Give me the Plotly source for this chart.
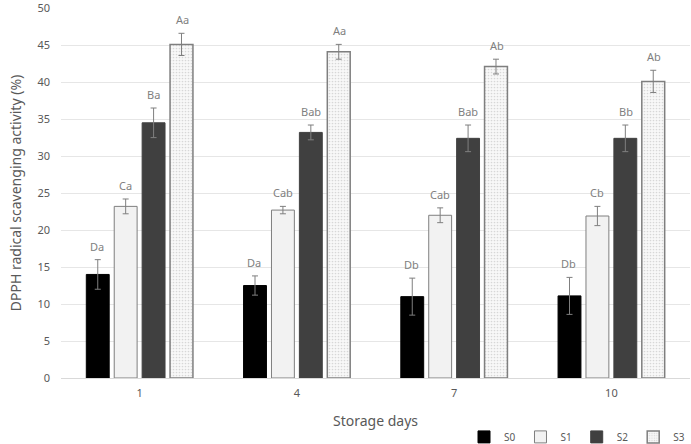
import plotly.graph_objects as go

days = ["1", "4", "7", "10"]
series = ["S0", "S1", "S2", "S3"]
values = {
    "S0": [14.0, 12.5, 11.0, 11.1],
    "S1": [23.2, 22.7, 22.0, 21.9],
    "S2": [34.5, 33.2, 32.4, 32.4],
    "S3": [45.1, 44.1, 42.1, 40.1],
}
errors = {
    "S0": [2.0, 1.3, 2.5, 2.5],
    "S1": [1.0, 0.5, 1.0, 1.3],
    "S2": [2.0, 1.0, 1.8, 1.8],
    "S3": [1.5, 1.0, 1.0, 1.5],
}
letters = {
    "S0": ["Da", "Da", "Db", "Db"],
    "S1": ["Ca", "Cab", "Cab", "Cb"],
    "S2": ["Ba", "Bab", "Bab", "Bb"],
    "S3": ["Aa", "Aa", "Ab", "Ab"],
}
x_title = "Storage days"
y_title = "DPPH radical scavenging activity (%)"

styles = {
    "S0": dict(color="#000000", line=dict(color="#000000", width=1)),
    "S1": dict(color="#f2f2f2", line=dict(color="#7f7f7f", width=1)),
    "S2": dict(color="#404040", line=dict(color="#404040", width=1)),
    "S3": dict(color="#f5f5f5", line=dict(color="#7f7f7f", width=1.5),
               pattern=dict(shape=".", fgcolor="#b5b5b5", bgcolor="#f8f8f8", size=3, solidity=0.25)),
}

fig = go.Figure()
for s in series:
    fig.add_trace(go.Bar(
        x=days, y=values[s], name=s, marker=styles[s],
        error_y=dict(type="data", array=errors[s], color="#7f7f7f", thickness=1, width=3),
    ))

# letter annotations above each bar's error bar (x given as category index)
n = len(series)
for i, s in enumerate(series):
    for j, d in enumerate(days):
        fig.add_annotation(
            x=j, y=values[s][j] + errors[s][j], text=letters[s][j],
            showarrow=False, yanchor="bottom", yshift=4,
            xshift=(i - (n - 1) / 2) * 28.5,
            font=dict(size=11, color="#7f7f7f", family="Noto Sans"),
        )

# x-axis title placed below the tick labels
fig.add_annotation(
    x=0.5, xref="paper", y=0, yref="paper", yanchor="middle", yshift=-42,
    text=x_title, showarrow=False, font=dict(size=14, color="#595959", family="Noto Sans"),
)

fig.update_layout(
    width=691, height=444,
    margin=dict(l=61, r=1, t=8, b=66, autoexpand=False),
    paper_bgcolor="white", plot_bgcolor="white",
    barmode="group", bargap=0.29, bargroupgap=0.18,
    font=dict(family="Noto Sans", color="#595959"),
    legend=dict(orientation="h", x=1.0, xanchor="right", yref="container", y=0.016, yanchor="middle",
                font=dict(size=10, color="#595959"), itemwidth=30, traceorder="normal"),
    showlegend=True,
)
fig.update_xaxes(
    type="category", automargin=False,
    tickfont=dict(size=11, color="#595959"), showline=True, linecolor="#d9d9d9",
    ticks="", showgrid=False, ticklabelstandoff=5,
)
fig.update_yaxes(
    automargin=False,
    title=dict(text=y_title, font=dict(size=14, color="#595959"), standoff=12),
    range=[0, 50.02], tickvals=[0, 5, 10, 15, 20, 25, 30, 35, 40, 45, 50],
    tickfont=dict(size=11, color="#595959"), ticklabeloverflow="allow", ticklabelstandoff=10,
    showgrid=True, gridcolor="#e6e6e6", zeroline=False, showline=False, ticks="",
)

fig.write_html("out.html")
